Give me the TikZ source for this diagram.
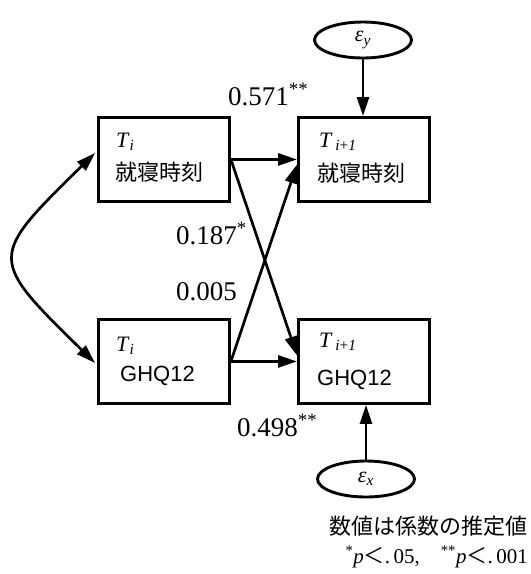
\documentclass[tikz,border=0pt]{standalone}
\usepackage{fontspec}
\setmainfont{Liberation Serif}
\setsansfont{Liberation Sans}
\newfontfamily\cjk{Noto Sans CJK JP}
\usetikzlibrary{arrows.meta,shapes.geometric,calc}
\begin{document}
\begin{tikzpicture}[x=1pt,y=-1pt,
 box/.style={draw,line width=2.9pt,minimum width=131pt,minimum height=84pt,inner sep=0pt,anchor=north west},
 err/.style={draw,ellipse,line width=2.9pt,minimum width=97pt,minimum height=36pt,inner sep=0pt},
 arr/.style={line width=2.7pt,-{Triangle[length=19pt,width=12pt]}},
 darr/.style={line width=2.7pt,{Triangle[length=19pt,width=12pt]}-{Triangle[length=19pt,width=12pt]}},
 lbl/.style={anchor=base west,inner sep=0pt,font=\fontsize{27}{27}\selectfont},
 tt/.style={anchor=base west,inner sep=0pt,font=\fontsize{22}{22}\selectfont},
 jp/.style={anchor=base west,inner sep=0pt,font=\cjk\fontsize{22}{22}\selectfont},
 gh/.style={anchor=base west,inner sep=0pt,font=\sffamily\fontsize{22}{22}\selectfont}]
\useasboundingbox (0,0) rectangle (531,574);

% boxes
\node[box] (b1) at (97,116) {};
\node[box] (b2) at (297,116) {};
\node[box] (b3) at (97,318) {};
\node[box] (b4) at (297,318) {};

% box texts
\node[tt] (t1) at ($(b1.north west)+(19,31)$) {\textit{T}\textsubscript{\textit{i}}};
\node[jp] (j1) at ($(b1.north west)+(18,64)$) {就寝時刻};
\node[tt] (t2) at ($(b2.north west)+(22,31)$) {\textit{T}\textsubscript{\,\textit{i}+\textit{1}}};
\node[jp] (j2) at ($(b2.north west)+(20,65)$) {就寝時刻};
\node[tt] (t3) at ($(b3.north west)+(19,33)$) {\textit{T}\textsubscript{\textit{i}}};
\node[gh] (g3) at ($(b3.north west)+(23,63)$) {GHQ12};
\node[tt] (t4) at ($(b4.north west)+(22,29)$) {\textit{T}\textsubscript{\,\textit{i}+\textit{1}}};
\node[gh] (g4) at ($(b4.north west)+(20,67)$) {GHQ12};

% error terms
\node[err] (ey) at (363,40) {\fontsize{22}{22}\selectfont\textit{ε}\textsubscript{\textit{y}}};
\node[err] (ex) at (366,479) {\fontsize{22}{22}\selectfont\textit{ε}\textsubscript{\textit{x}}};

% arrows
\draw[arr] (ey.south) -- (ey.south |- b2.north);
\draw[arr] (ex.north) -- (ex.north |- b4.south);
\draw[arr] (b1.east) -- (b2.west);
\draw[arr] (b3.east) -- (b4.west);
\draw[arr] (b1.east) -- ($(b4.west)+(0,-6)$);
\draw[arr] (b3.east) -- ($(b2.west)+(0,5)$);

% covariance
\coordinate (c1) at ($(b1.north west)+(-2,37)$);
\coordinate (c2) at ($(b3.north west)+(-2,45)$);
\draw[darr] (c1) .. controls +(-107,105) and +(-107,-105) .. (c2);

% coefficient labels
\node[lbl] (l1) at (228,105) {0.571\textsuperscript{**}};
\node[lbl] (l2) at (176,244) {0.187\textsuperscript{*}};
\node[lbl] (l3) at (176,300) {0.005};
\node[lbl] (l4) at (237,436) {0.498\textsuperscript{**}};

% caption
\node[anchor=base east,inner sep=0pt,font=\cjk\fontsize{22}{22}\selectfont] (cap1) at (528,534) {数値は係数の推定値};
\node[anchor=base east,inner sep=0pt,font=\fontsize{21}{21}\selectfont] (cap2) at (528,563) {\textsuperscript{*}\textit{p}{\cjk ＜}.\,05,\quad\textsuperscript{**}\textit{p}{\cjk ＜}.\,001};
\end{tikzpicture}
\end{document}
